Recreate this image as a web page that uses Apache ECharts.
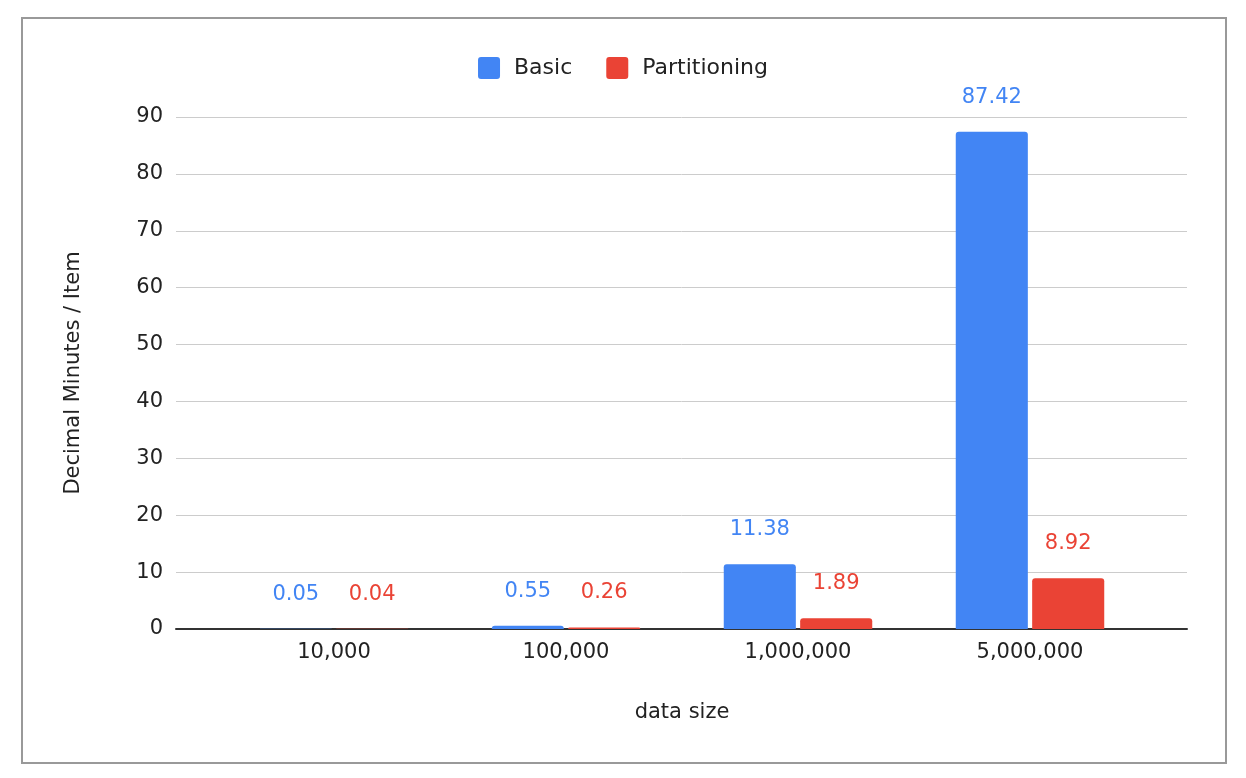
<!DOCTYPE html>
<html><head><meta charset="utf-8">
<script src="https://cdn.jsdelivr.net/npm/echarts@6/dist/echarts.min.js"></script>
<style>html,body{margin:0;padding:0;background:#fff}#c{width:1246px;height:778px}</style>
</head><body><div id="c"></div>
<script>
const categories = ['10,000', '100,000', '1,000,000', '5,000,000'];
const basicValues = [0.05, 0.55, 11.38, 87.42];
const partitioningValues = [0.04, 0.26, 1.89, 8.92];
const yTicks = {min: 0, max: 90, interval: 10};

const FONT = '"DejaVu Sans", sans-serif';
const BLUE = '#4285F4', RED = '#EA4335';
const ICON = 'path://M3,0 H19 A3,3 0 0 1 22,3 V19 A3,3 0 0 1 19,22 H3 A3,3 0 0 1 0,19 V3 A3,3 0 0 1 3,0 Z';
const chart = echarts.init(document.getElementById('c'), null, {renderer: 'canvas'});
chart.setOption({
  backgroundColor: '#fff',
  animation: false,
  textStyle: {fontFamily: FONT},
  graphic: [{type: 'rect', shape: {x: 22, y: 18, width: 1204, height: 745},
    style: {fill: 'none', stroke: '#999', lineWidth: 2}, silent: true, z: -1}],
  legend: {
    top: 52, left: 'center', itemWidth: 22, itemHeight: 22, itemGap: 34,
    icon: ICON,
    textStyle: {fontFamily: FONT, fontSize: 22, color: '#222', padding: [0, 0, 0, 9]},
    data: ['Basic', 'Partitioning']
  },
  grid: [
    {left: 176, right: 59, top: 117, bottom: 149},
    {left: 218, right: 100, top: 117, bottom: 149}
  ],
  xAxis: [
    {gridIndex: 0, type: 'value', min: 0, max: 1, axisLabel: {show: false}, axisTick: {show: false},
     splitLine: {show: false}, axisLine: {show: true, lineStyle: {color: '#333', width: 2}}},
    {gridIndex: 1, type: 'category', data: categories,
     axisLine: {show: false}, axisTick: {show: false},
     axisLabel: {fontFamily: FONT, fontSize: 21, color: '#222', margin: 13},
     name: 'data size', nameLocation: 'middle', nameGap: 73,
     nameTextStyle: {fontFamily: FONT, fontSize: 21, color: '#222'}}
  ],
  yAxis: [
    {gridIndex: 0, type: 'value', min: yTicks.min, max: yTicks.max, interval: yTicks.interval,
     axisLine: {show: false}, axisTick: {show: false},
     axisLabel: {fontFamily: FONT, fontSize: 21, color: '#222', margin: 13},
     splitLine: {lineStyle: {color: '#ccc', width: 1}},
     name: 'Decimal Minutes / Item', nameLocation: 'middle', nameGap: 92, nameRotate: 90,
     nameTextStyle: {fontFamily: FONT, fontSize: 21, color: '#222'}},
    {gridIndex: 1, type: 'value', min: yTicks.min, max: yTicks.max, interval: yTicks.interval, show: false}
  ],
  series: [
    {name: 'Basic', type: 'bar', xAxisIndex: 1, yAxisIndex: 1, data: basicValues,
     barCategoryGap: '36%', barGap: '6%',
     itemStyle: {color: BLUE, borderRadius: [3, 3, 0, 0]},
     label: {show: true, position: 'top', distance: 24, color: BLUE, fontSize: 21, fontFamily: FONT}},
    {name: 'Partitioning', type: 'bar', xAxisIndex: 1, yAxisIndex: 1, data: partitioningValues,
     barCategoryGap: '36%', barGap: '6%',
     itemStyle: {color: RED, borderRadius: [3, 3, 0, 0]},
     label: {show: true, position: 'top', distance: 24, color: RED, fontSize: 21, fontFamily: FONT}}
  ]
});
</script></body></html>
